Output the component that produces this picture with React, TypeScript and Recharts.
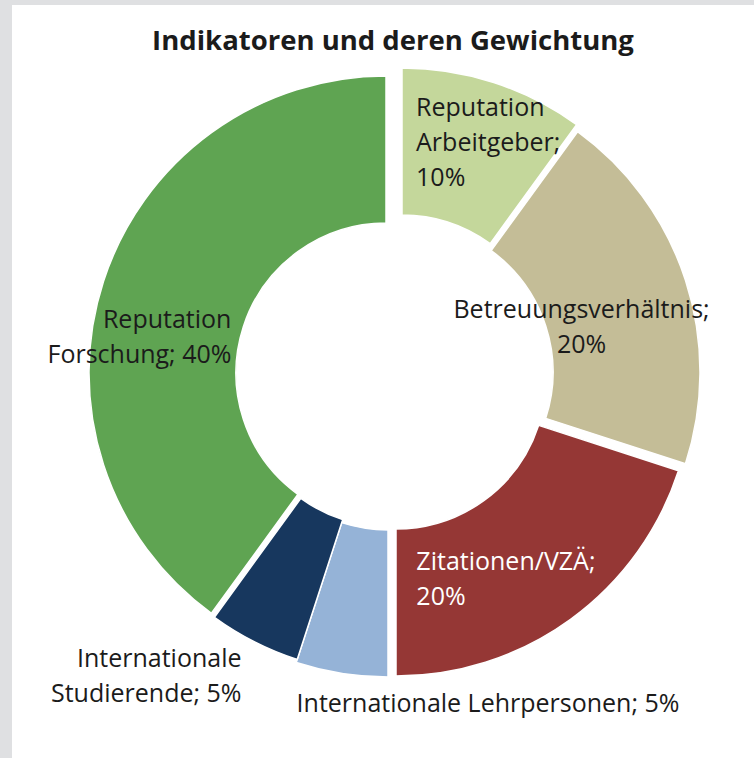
import { PieChart, Pie, Cell } from 'recharts';

const labels = [
  'Reputation Arbeitgeber',
  'Betreuungsverhältnis',
  'Zitationen/VZÄ',
  'Internationale Lehrpersonen',
  'Internationale Studierende',
  'Reputation Forschung',
];
const weights = [10, 20, 20, 5, 5, 40];
const labelLines = [
  ['Reputation', 'Arbeitgeber;', '10%'],
  ['Betreuungsverhältnis;', '20%'],
  ['Zitationen/VZÄ;', '20%'],
  ['Internationale Lehrpersonen; 5%'],
  ['Internationale', 'Studierende; 5%'],
  ['Reputation', 'Forschung; 40%'],
];

const colors = ['#c4d79b', '#c4bd97', '#953735', '#95b3d7', '#17375e', '#5fa452'];
const textColors = ['#1b1b1b', '#1b1b1b', '#ffffff', '#1b1b1b', '#1b1b1b', '#1b1b1b'];

const data = labels.map((name, i) => ({ name, value: weights[i] }));

// Excel-style exploded slices: each slice gets its own centre
const CX = 390;
const CY = 367;
const explode = [[7, -7], [8, 0], [1, 7], [-7, 8], [-6, 5], [-9, 1]];
// label anchor relative to the slice's mid point
const labelLayout: { dx: number; dy: number; anchor: 'start' | 'middle' | 'end' }[] = [
  { dx: -55, dy: -36, anchor: 'start' },
  { dx: -34, dy: 15, anchor: 'middle' },
  { dx: -111, dy: 10, anchor: 'start' },
  { dx: 135, dy: 111, anchor: 'middle' },
  { dx: -46, dy: 91, anchor: 'end' },
  { dx: 58, dy: 24, anchor: 'end' },
];

const RAD = Math.PI / 180;
const FONT = '"Open Sans", sans-serif';

function sliceLabel(k: number) {
  return (p: any) => {
    if (p.index !== k) return null;
    const r = (p.innerRadius + p.outerRadius) / 2;
    const mx = p.cx + Math.cos(-p.midAngle * RAD) * r;
    const my = p.cy + Math.sin(-p.midAngle * RAD) * r;
    const l = labelLayout[k];
    return (
      <text
        x={mx + l.dx}
        y={my + l.dy}
        textAnchor={l.anchor}
        fill={textColors[k]}
        fontSize={25}
        fontFamily={FONT}
      >
        {labelLines[k].map((line, j) => (
          <tspan key={j} x={mx + l.dx} dy={j === 0 ? 0 : 35}>
            {line}
          </tspan>
        ))}
      </text>
    );
  };
}

export default function App() {
  return (
    <div style={{ position: 'fixed', left: 0, top: 0, width: 754, height: 758, background: '#dfe0e2' }}>
      <div style={{ position: 'absolute', left: 12, top: 5, right: 0, bottom: 0, background: '#fff' }} />
      <div
        style={{
          position: 'absolute',
          left: 0,
          width: 786,
          top: 26,
          textAlign: 'center',
          fontFamily: FONT,
          fontWeight: 700,
          fontSize: 27.5,
          lineHeight: 1,
          color: '#1b1b1b',
        }}
      >
        Indikatoren und deren Gewichtung
      </div>
      <div style={{ position: 'absolute', left: 0, top: 0 }}>
        <PieChart width={754} height={758}>
          {explode.map(([ox, oy], k) => (
            <Pie
              key={k}
              data={data}
              dataKey="value"
              nameKey="name"
              cx={CX + ox}
              cy={CY + oy}
              innerRadius={150}
              outerRadius={297}
              startAngle={90}
              endAngle={-270}
              stroke="none"
              isAnimationActive={false}
              label={sliceLabel(k)}
              labelLine={false}
            >
              {data.map((d, i) => (
                <Cell
                  key={d.name}
                  fill={i === k ? colors[i] : 'transparent'}
                  stroke={i === k ? '#ffffff' : 'none'}
                  strokeWidth={1.5}
                />
              ))}
            </Pie>
          ))}
        </PieChart>
      </div>
    </div>
  );
}
